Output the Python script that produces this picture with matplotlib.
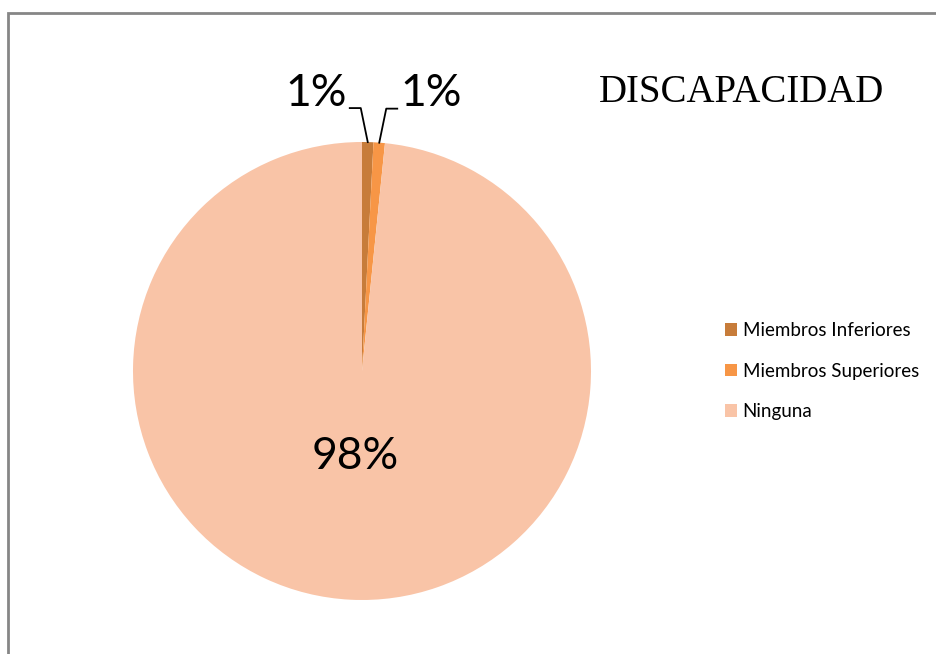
import numpy as np
import matplotlib
matplotlib.use("Agg")
import matplotlib.pyplot as plt
from matplotlib.patches import Rectangle, Patch

# datos de la grafica
categorias = ["Miembros Inferiores", "Miembros Superiores", "Ninguna"]
valores = [2, 2, 246]
etiquetas = ["1%", "1%", "98%"]
colores = ["#C77C3A", "#F79646", "#F9C4A7"]
titulo = "DISCAPACIDAD"

W, H = 936, 654
fig = plt.figure(figsize=(W / 100, H / 100), dpi=100)
ax = fig.add_axes([0, 0, 1, 1])

# borde gris del area del grafico
fig.patches.append(Rectangle((8 / W, -0.05), 1.1, (H - 13) / H + 0.05, transform=fig.transFigure,
                             fill=False, edgecolor="#868686", linewidth=2))

cx, cy, r = 362, H - 371, 229
wedges, _ = ax.pie(valores, colors=colores, startangle=90, counterclock=False,
                   center=(cx, cy), radius=r, frame=True,
                   wedgeprops=dict(linewidth=0))
ax.set_xlim(0, W)
ax.set_ylim(0, H)
ax.set_aspect("equal")
ax.axis("off")

fuente = ["Lato", "DejaVu Sans"]

# etiquetas de los sectores pequenos con lineas guia
for i, w in enumerate(wedges[:2]):
    ang = np.deg2rad((w.theta1 + w.theta2) / 2)
    x0, y0 = cx + r * np.cos(ang), cy + r * np.sin(ang)
    lado = -1 if i == 0 else 1
    x1, y1 = x0 + lado * 7, y0 + 34
    x2 = x1 + lado * 11
    ax.plot([x0, x1, x2], [y0, y1, y1], color="black", lw=1.3)
    ax.text(x2 + lado * 3, y1 + 15, etiquetas[i], ha="right" if lado < 0 else "left",
            va="center", fontsize=32, family=fuente)

# etiqueta del sector grande
w = wedges[2]
ang = np.deg2rad((w.theta1 + w.theta2) / 2)
ax.text(cx + r * 0.4 * np.cos(ang) - 2, cy + r * 0.4 * np.sin(ang) + 6,
        etiquetas[2], ha="center", va="center", fontsize=32, family=fuente)

ax.text(741, H - 92, titulo, ha="center", va="center", fontsize=28, family=["Liberation Serif"])

handles = [Patch(facecolor=c, edgecolor="none") for c in colores]
ax.legend(handles, categorias, loc="center left", bbox_to_anchor=(708 / W, 1 - 371 / H),
          frameon=False, handlelength=0.65, handleheight=0.65,
          handletextpad=0.3, labelspacing=1.25, prop={"family": fuente, "size": 13.5})

fig.savefig("out.png", dpi=100)
